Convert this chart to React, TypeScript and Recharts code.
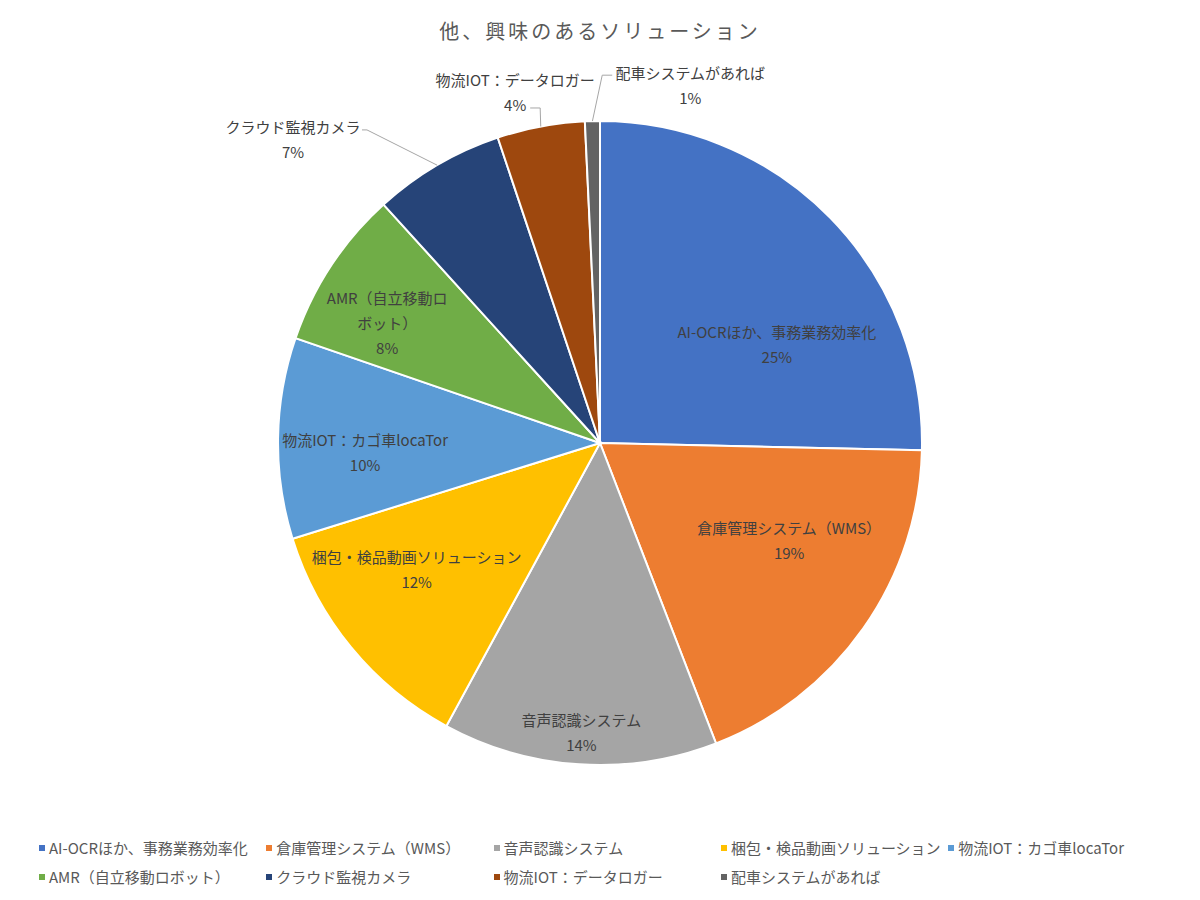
import React from 'react';
import { PieChart, Pie, Cell, Legend } from 'recharts';

const FONT = '"Noto Sans CJK JP", "Noto Sans", sans-serif';

const categories = [
    'AI-OCRほか、事務業務効率化',
    '倉庫管理システム（WMS）',
    '音声認識システム',
    '梱包・検品動画ソリューション',
    '物流IOT：カゴ車locaTor',
    'AMR（自立移動ロボット）',
    'クラウド監視カメラ',
    '物流IOT：データロガー',
    '配車システムがあれば',
];

const shares = [25.4, 18.8, 13.8, 12.3, 10.1, 8.0, 6.6, 4.4, 0.75];

const colors = ['#4472C4', '#ED7D31', '#A5A5A5', '#FFC000', '#5B9BD5', '#70AD47', '#264478', '#9E480E', '#636363'];

const data = categories.map((name, i) => ({ name, value: shares[i] }));

// label placement, roughly where Excel's "best fit" put them
// r = fraction of outer radius, da = degrees added to the slice's mid angle
type Place = { r: number; da: number; wrap?: number; leader?: { ex: number; ey: number; tx: number; ty: number } };
const LABEL_PLACE: Place[] = [
    { r: 0.63, da: -15 },
    { r: 0.66, da: 8 },
    { r: 0.9, da: 0 },
    { r: 0.69, da: -5 },
    { r: 0.73, da: 3 },
    { r: 0.76, da: 3.8, wrap: 9 },
    { r: 1.342, da: 14.9, leader: { ex: 74, ey: -9, tx: 69, ty: -9 } },
    { r: 1.12, da: 3, leader: { ex: 25, ey: 15.5, tx: 15, ty: 15.5 } },
    { r: 1.146, da: -15.5, leader: { ex: -88, ey: -10, tx: -78, ty: -10 } },
];

const RAD = Math.PI / 180;

function wrapText(s: string, n?: number) {
    if (!n || s.length <= n) return [s];
    const out: string[] = [];
    for (let i = 0; i < s.length; i += n) out.push(s.slice(i, i + n));
    return out;
}

const renderLabel = (props: any) => {
    const { cx, cy, midAngle, outerRadius, percent, index, name } = props;
    const place = LABEL_PLACE[index];
    const a = (midAngle + place.da) * RAD;
    const x = cx + outerRadius * place.r * Math.cos(a);
    const y = cy - outerRadius * place.r * Math.sin(a);
    const lines = [...wrapText(name, place.wrap), `${Math.round(percent * 100)}%`];
    const lh = 25;
    const y0 = y - ((lines.length - 1) * lh) / 2;

    let leader = null;
    if (place.leader) {
        const m = midAngle * RAD;
        const sx = cx + outerRadius * Math.cos(m);
        const sy = cy - outerRadius * Math.sin(m);
        const l = place.leader;
        leader = (
            <polyline
                points={`${sx},${sy} ${x + l.ex},${y + l.ey} ${x + l.tx},${y + l.ty}`}
                fill="none"
                stroke="#A6A6A6"
                strokeWidth={1}
            />
        );
    }

    return (
        <g key={`lbl-${index}`}>
            {leader}
            {lines.map((t, i) => (
                <text
                    key={i}
                    x={x}
                    y={y0 + i * lh}
                    textAnchor="middle"
                    dominantBaseline="central"
                    fill="#404040"
                    fontSize={15}
                    fontFamily={FONT}
                >
                    {t}
                </text>
            ))}
        </g>
    );
};

const renderLegend = () => (
    <div style={{ display: 'flex', flexWrap: 'wrap', width: 1140, paddingLeft: 39, fontFamily: FONT }}>
        {categories.map((c, i) => (
            <div key={c} style={{ width: 227.3, height: 29, display: 'flex', alignItems: 'center', fontSize: 15, color: '#595959' }}>
                <span style={{ display: 'inline-block', width: 6, height: 6, background: colors[i], marginRight: 4 }} />
                <span style={{ whiteSpace: 'nowrap' }}>{c}</span>
            </div>
        ))}
    </div>
);

export default function App() {
    return (
        <div style={{ position: 'absolute', left: 0, top: 0, width: 1200, height: 900, background: '#fff' }}>
            <div
                style={{
                    position: 'absolute',
                    top: 16,
                    left: 0,
                    width: 1200,
                    textAlign: 'center',
                    fontFamily: FONT,
                    fontSize: 20,
                    letterSpacing: 3,
                    color: '#595959',
                    zIndex: 1,
                }}
            >
                他、興味のあるソリューション
            </div>
            <PieChart width={1200} height={900} margin={{ top: 0, right: 0, bottom: 0, left: 0 }}>
                <Pie
                    data={data}
                    dataKey="value"
                    nameKey="name"
                    cx={600}
                    cy={443}
                    outerRadius={322}
                    startAngle={90}
                    endAngle={-270}
                    stroke="#ffffff"
                    strokeWidth={2}
                    labelLine={false}
                    label={renderLabel}
                    isAnimationActive={false}
                >
                    {data.map((d, i) => (
                        <Cell key={d.name} fill={colors[i]} />
                    ))}
                </Pie>
                <Legend content={renderLegend} wrapperStyle={{ position: 'absolute', top: 833, left: 0, width: 1200 }} />
            </PieChart>
        </div>
    );
}
